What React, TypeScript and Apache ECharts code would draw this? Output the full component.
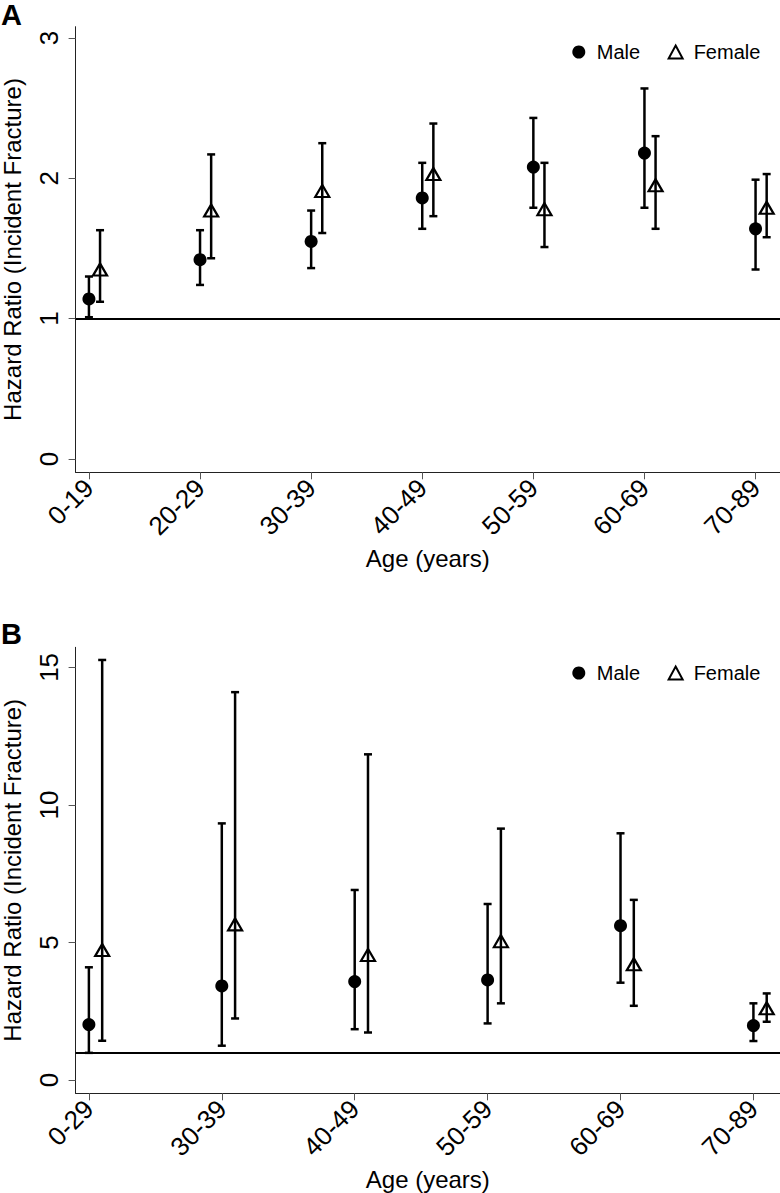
import React, { useEffect, useRef } from "react";
import * as echarts from "echarts";

// ---------- Panel A data ----------
const catsA = ["0-19", "20-29", "30-39", "40-49", "50-59", "60-69", "70-89"];
const maleA_hr = [1.14, 1.42, 1.55, 1.86, 2.08, 2.18, 1.64];
const maleA_lo = [1.01, 1.24, 1.36, 1.64, 1.79, 1.79, 1.35];
const maleA_hi = [1.3, 1.63, 1.77, 2.11, 2.43, 2.64, 1.99];
const femaleA_hr = [1.35, 1.77, 1.91, 2.03, 1.78, 1.95, 1.79];
const femaleA_lo = [1.12, 1.43, 1.61, 1.73, 1.51, 1.64, 1.58];
const femaleA_hi = [1.63, 2.17, 2.25, 2.39, 2.11, 2.3, 2.03];
const yTicksA = [0, 1, 2, 3];

// ---------- Panel B data ----------
const catsB = ["0-29", "30-39", "40-49", "50-59", "60-69", "70-89"];
const maleB_hr = [2.02, 3.42, 3.58, 3.64, 5.61, 1.98];
const maleB_lo = [0.99, 1.25, 1.85, 2.06, 3.54, 1.42];
const maleB_hi = [4.1, 9.33, 6.91, 6.4, 8.97, 2.79];
const femaleB_hr = [4.73, 5.66, 4.55, 5.05, 4.21, 2.61];
const femaleB_lo = [1.43, 2.24, 1.73, 2.79, 2.7, 2.12];
const femaleB_hi = [15.27, 14.1, 11.84, 9.14, 6.55, 3.15];
const yTicksB = [0, 5, 10, 15];

const refValue = 1;
const seriesNames = ["Male", "Female"];

const FONT = "'Liberation Sans', Arial, Helvetica, sans-serif";
const FEMALE_OFFSET = 0.1;

function points(hr: number[], offset: number) {
  return hr.map((v, i) => [i + offset, v]);
}
function bars(lo: number[], hi: number[], offset: number) {
  return lo.map((v, i) => [i + offset, v, hi[i]]);
}

const renderErr = (params: any, api: any) => {
  const x = api.value(0);
  const pLo = api.coord([x, api.value(1)]);
  const pHi = api.coord([x, api.value(2)]);
  const hw = 4;
  const style = { stroke: "#000", lineWidth: 2.5 };
  return {
    type: "group",
    children: [
      { type: "line", shape: { x1: pLo[0], y1: pLo[1], x2: pHi[0], y2: pHi[1] }, style },
      { type: "line", shape: { x1: pLo[0] - hw, y1: pLo[1], x2: pLo[0] + hw, y2: pLo[1] }, style },
      { type: "line", shape: { x1: pHi[0] - hw, y1: pHi[1], x2: pHi[0] + hw, y2: pHi[1] }, style },
    ],
  };
};

function xAxisFor(cats: string[], gridIndex: number, min: number, max: number) {
  const ticks = cats.map((_, i) => i);
  return {
    type: "value",
    gridIndex,
    min,
    max,
    name: "Age (years)",
    nameLocation: "middle",
    nameGap: 74,
    nameTextStyle: { fontSize: 24, color: "#000", fontFamily: FONT },
    splitLine: { show: false },
    axisLine: { show: true, onZero: false, lineStyle: { color: "#222", width: 1 } },
    axisTick: { show: true, length: 7, customValues: ticks, lineStyle: { color: "#555", width: 1 } },
    axisLabel: {
      customValues: ticks,
      rotate: 45,
      margin: 11,
      fontSize: 26,
      color: "#000",
      fontFamily: FONT,
      formatter: (v: number) => cats[Math.round(v)] ?? "",
    },
  };
}

function yAxisFor(ticks: number[], gridIndex: number, min: number, max: number) {
  return {
    type: "value",
    gridIndex,
    min,
    max,
    name: "Hazard Ratio (Incident Fracture)",
    nameLocation: "middle",
    nameGap: 51,
    nameTextStyle: { fontSize: 24, color: "#000", fontFamily: FONT },
    splitLine: { show: false },
    axisLine: { show: true, onZero: false, lineStyle: { color: "#222", width: 1 } },
    axisTick: { show: true, length: 7, customValues: ticks, lineStyle: { color: "#555", width: 1 } },
    axisLabel: {
      customValues: ticks,
      rotate: 90,
      margin: 14,
      fontSize: 26,
      color: "#000",
      fontFamily: FONT,
    },
  };
}

function panelSeries(
  idx: number,
  mHr: number[], mLo: number[], mHi: number[],
  fHr: number[], fLo: number[], fHi: number[]
) {
  const common = { xAxisIndex: idx, yAxisIndex: idx, emphasis: { disabled: true }, silent: true };
  return [
    { ...common, type: "custom", name: "errM" + idx, renderItem: renderErr, data: bars(mLo, mHi, 0), z: 2 },
    { ...common, type: "custom", name: "errF" + idx, renderItem: renderErr, data: bars(fLo, fHi, FEMALE_OFFSET), z: 2 },
    {
      ...common,
      type: "scatter",
      name: seriesNames[0],
      symbol: "circle",
      symbolSize: 13,
      itemStyle: { color: "#000", opacity: 1 },
      data: points(mHr, 0),
      z: 4,
      markLine: {
        silent: true,
        symbol: ["none", "none"],
        label: { show: false },
        lineStyle: { color: "#000", width: 2, type: "solid" },
        data: [{ yAxis: refValue }],
      },
    },
    {
      ...common,
      type: "scatter",
      name: seriesNames[1],
      symbol: "triangle",
      symbolSize: [14, 12],
      itemStyle: { color: "rgba(255,255,255,0)", borderColor: "#000", borderWidth: 2.2, opacity: 1 },
      data: points(fHr, FEMALE_OFFSET),
      z: 4,
    },
  ];
}

function legendAt(top: number) {
  return {
    data: seriesNames,
    left: 572.3,
    top,
    padding: 0,
    itemWidth: 14,
    itemHeight: 13,
    itemGap: 27.5,
    selectedMode: false,
    textStyle: { fontSize: 20, color: "#000", fontFamily: FONT, padding: [0, 0, 0, 6] },
  };
}

export default function App() {
  const ref = useRef<HTMLDivElement>(null);
  useEffect(() => {
    if (!ref.current) return;
    const chart = echarts.init(ref.current, undefined, { renderer: "svg" });
    chart.setOption({
      animation: false,
      backgroundColor: "#fff",
      textStyle: { fontFamily: FONT },
      grid: [
        { left: 75.6, right: 0, top: 26.7, height: 445.6, containLabel: false, outerBoundsMode: "none" },
        { left: 75.6, right: 0, top: 647.3, height: 446, containLabel: false, outerBoundsMode: "none" },
      ],
      xAxis: [xAxisFor(catsA, 0, -0.12, 6.22), xAxisFor(catsB, 1, -0.1, 5.2)],
      yAxis: [yAxisFor(yTicksA, 0, -0.095, 3.08), yAxisFor(yTicksB, 1, -0.48, 15.73)],
      legend: [legendAt(42), legendAt(663)],
      graphic: [
        {
          type: "text",
          x: 1,
          y: 15,
          style: { text: "A", font: `bold 29px ${FONT}`, fill: "#000", verticalAlign: "middle" },
        },
        {
          type: "text",
          x: 1,
          y: 634,
          style: { text: "B", font: `bold 29px ${FONT}`, fill: "#000", verticalAlign: "middle" },
        },
      ],
      series: [
        ...panelSeries(0, maleA_hr, maleA_lo, maleA_hi, femaleA_hr, femaleA_lo, femaleA_hi),
        ...panelSeries(1, maleB_hr, maleB_lo, maleB_hi, femaleB_hr, femaleB_lo, femaleB_hi),
      ],
    });
    return () => chart.dispose();
  }, []);
  return (
    <div
      ref={ref}
      style={{ position: "absolute", left: 0, top: 0, width: 780, height: 1193, background: "#fff" }}
    />
  );
}
